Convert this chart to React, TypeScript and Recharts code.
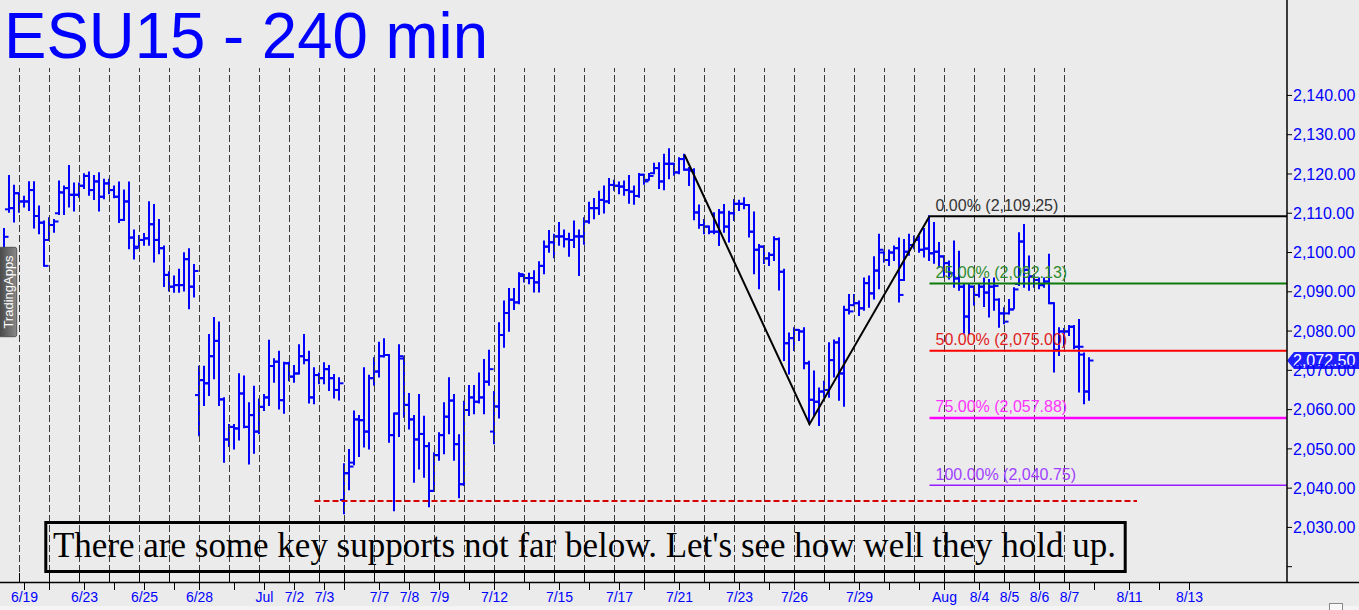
import React from "react";
import { Bar, ComposedChart, Line, ReferenceLine, XAxis, YAxis } from "recharts";

const BLUE = "#0000ff";
const BG = "#ebebeb";

// 240-minute bars, ESU15, 6/19 .. 8/7
const opens = [
  2097, 2111, 2111.3, 2115.1, 2113.0, 2113.0, 2115.9, 2109.3, 2107.6, 2103.2,
  2107.0, 2110.0, 2115.3, 2116.4, 2114.7, 2114.7, 2117.0, 2119.5, 2115.9, 2118.1,
  2114.2, 2117.6, 2115.9, 2114.2, 2108.3, 2113.0, 2103.8, 2101.5, 2103.2, 2103.6,
  2107.2, 2103.2, 2101.1, 2094.3, 2091.3, 2091.7, 2091.7, 2098.3, 2091.3, 2063.7,
  2067.5, 2066.7, 2073.6, 2077.5, 2062.6, 2052.4, 2055.6, 2055.2, 2064.1, 2055.6,
  2058.6, 2054.4, 2060.7, 2063.1, 2071.1, 2072.2, 2062.4, 2071.8, 2068.4, 2069.2,
  2073.6, 2072.6, 2063.1, 2068.8, 2068.0, 2070.3, 2068.0, 2065.0, 2037.0, 2043.8,
  2046.5, 2057.5, 2057.3, 2054.4, 2068.0, 2069.7, 2073.6, 2073.9, 2053.5, 2059.0,
  2073.0, 2061.2, 2057.5, 2052.4, 2053.8, 2050.7, 2039.3, 2048.4, 2053.5, 2058.2,
  2062.3, 2051.2, 2041.0, 2059.9, 2063.1, 2062.0, 2063.1, 2067.1, 2054.4, 2060.8,
  2079.0, 2084.6, 2088.0, 2087.3, 2094.0, 2093.5, 2093.5, 2092.4, 2096.6, 2101.5,
  2102.6, 2104.1, 2104.1, 2103.4, 2103.2, 2104.1, 2104.1, 2107.9, 2111.3, 2111.3,
  2113.4, 2113.0, 2117.2, 2117.0, 2116.8, 2115.9, 2115.5, 2114.4, 2119.8, 2118.5,
  2120.2, 2121.5, 2118.1, 2122.6, 2122.6, 2120.4, 2123.8, 2121.1, 2120.9, 2110.2,
  2107.0, 2106.6, 2105.3, 2105.3, 2110.2, 2106.6, 2110.0, 2112.4, 2112.4, 2112.1,
  2105.3, 2100.7, 2101.5, 2098.5, 2099.4, 2103.4, 2095.1, 2076.9, 2078.2, 2080.3,
  2079.9, 2071.8, 2062.5, 2062.0, 2064.6, 2065.0, 2072.6, 2077.1, 2069.2, 2085.4,
  2086.6, 2087.1, 2085.8, 2092.2, 2089.6, 2095.4, 2100.0, 2098.1, 2100.0, 2101.1,
  2093.0, 2100.2, 2101.9, 2103.2, 2100.7, 2101.0, 2099.8, 2100.2, 2099.0, 2097.3,
  2094.7, 2093.4, 2091.3, 2083.7, 2091.3, 2089.2, 2091.3, 2089.8, 2091.3, 2088.0,
  2084.5, 2084.5, 2085.5, 2092.0, 2102.8, 2095.6, 2093.9, 2093.0, 2091.7, 2092.6,
  2087.1, 2075.2, 2079.9, 2079.9, 2081.1, 2076.0, 2074.0, 2064.6,
];

const highs = [
  2106, 2119.5, 2117, 2115.1, 2114.2, 2117.9, 2117.9, 2111.7, 2107.9, 2108.7,
  2108.3, 2118.1, 2116.8, 2122.0, 2117.6, 2117.6, 2119.9, 2120.4, 2119.5, 2120.2,
  2118.5, 2118.5, 2116.8, 2117.8, 2115.8, 2117.8, 2105.6, 2104.2, 2104.7, 2112.8,
  2112.1, 2108.3, 2101.5, 2095.0, 2093.9, 2095.6, 2099.8, 2100.8, 2096.8, 2070.9,
  2070.9, 2079.0, 2083.3, 2082.2, 2062.9, 2056.1, 2056.1, 2069.0, 2068.4, 2061.6,
  2065.8, 2062.6, 2063.7, 2077.5, 2072.8, 2074.7, 2071.9, 2071.9, 2071.1, 2076.4,
  2079.0, 2074.7, 2070.5, 2069.2, 2071.8, 2071.1, 2068.8, 2068.0, 2046.1, 2049.7,
  2059.5, 2058.4, 2070.5, 2068.6, 2073.1, 2077.0, 2077.9, 2073.9, 2059.0, 2076.4,
  2073.3, 2064.0, 2058.4, 2063.7, 2058.2, 2051.4, 2048.9, 2054.0, 2061.6, 2068.0,
  2063.7, 2053.5, 2062.0, 2066.0, 2066.0, 2069.2, 2072.6, 2075.0, 2064.5, 2082.0,
  2087.5, 2090.7, 2090.7, 2094.7, 2094.3, 2094.6, 2095.2, 2097.5, 2102.8, 2105.5,
  2104.5, 2107.5, 2105.6, 2104.8, 2107.9, 2105.6, 2108.7, 2112.7, 2113.6, 2115.5,
  2116.8, 2118.7, 2118.3, 2117.8, 2118.1, 2119.5, 2116.8, 2120.0, 2119.8, 2120.0,
  2122.6, 2122.7, 2124.9, 2126.3, 2122.6, 2124.0, 2124.9, 2121.5, 2121.2, 2112.0,
  2108.3, 2106.6, 2110.0, 2110.8, 2112.1, 2110.4, 2113.4, 2113.2, 2113.8, 2112.1,
  2110.2, 2101.9, 2101.5, 2099.8, 2103.9, 2103.6, 2095.6, 2079.4, 2080.7, 2080.3,
  2080.7, 2072.2, 2069.7, 2065.4, 2067.1, 2076.9, 2077.6, 2078.2, 2086.2, 2089.2,
  2089.2, 2087.5, 2093.4, 2093.9, 2098.8, 2104.5, 2100.2, 2100.5, 2101.5, 2103.6,
  2103.2, 2104.5, 2104.1, 2104.1, 2106.0, 2109.25, 2107.5, 2102.4, 2099.0, 2097.7,
  2102.8, 2100.2, 2091.7, 2091.7, 2091.3, 2091.7, 2093.4, 2093.0, 2093.4, 2088.1,
  2085.8, 2087.9, 2090.9, 2104.9, 2107.0, 2099.0, 2094.3, 2093.4, 2093.4, 2099.4,
  2087.1, 2080.7, 2080.5, 2081.3, 2081.3, 2082.8, 2074.3, 2073.1,
];

const lows = [
  2092, 2110.4, 2107.9, 2110.4, 2111.7, 2110.8, 2106.4, 2104.9, 2096.6, 2103.2,
  2105.3, 2109.8, 2109.8, 2111.7, 2110.7, 2114.2, 2116.4, 2114.7, 2113.6, 2110.7,
  2113.8, 2115.1, 2114.1, 2107.8, 2108.3, 2101.1, 2098.5, 2101.5, 2102.0, 2102.0,
  2097.7, 2099.8, 2091.5, 2090.3, 2090.0, 2090.0, 2090.3, 2085.8, 2088.8, 2053.5,
  2061.2, 2063.7, 2068.0, 2061.2, 2046.7, 2050.7, 2050.1, 2052.4, 2055.5, 2046.3,
  2049.0, 2054.0, 2059.9, 2061.2, 2067.1, 2060.3, 2059.2, 2067.5, 2067.1, 2069.2,
  2071.8, 2061.8, 2061.6, 2066.7, 2066.7, 2065.0, 2063.1, 2062.6, 2033.6, 2039.7,
  2046.1, 2048.2, 2050.6, 2050.1, 2066.3, 2068.4, 2073.5, 2051.8, 2034.4, 2053.3,
  2058.2, 2055.2, 2041.6, 2045.0, 2042.9, 2035.4, 2039.5, 2047.2, 2048.9, 2054.0,
  2047.2, 2037.7, 2040.8, 2058.6, 2059.1, 2061.8, 2059.1, 2066.3, 2051.4, 2058.0,
  2076.0, 2080.1, 2085.6, 2087.1, 2092.6, 2092.2, 2090.1, 2090.1, 2094.7, 2100.2,
  2098.8, 2102.0, 2101.5, 2099.2, 2101.4, 2094.3, 2102.2, 2107.6, 2108.7, 2109.8,
  2110.2, 2112.6, 2116.0, 2115.1, 2114.7, 2112.7, 2112.4, 2114.2, 2117.5, 2118.5,
  2120.2, 2116.4, 2116.1, 2118.9, 2119.8, 2120.2, 2121.1, 2117.2, 2108.5, 2106.3,
  2104.9, 2104.9, 2104.9, 2101.9, 2105.3, 2102.8, 2108.3, 2110.8, 2111.3, 2104.1,
  2094.7, 2090.9, 2097.3, 2096.8, 2098.1, 2090.6, 2072.6, 2069.2, 2075.2, 2077.7,
  2070.5, 2056.5, 2058.6, 2056.1, 2063.3, 2063.3, 2068.4, 2062.5, 2061.0, 2084.5,
  2086.6, 2084.1, 2085.4, 2086.2, 2088.3, 2090.9, 2097.7, 2096.8, 2098.1, 2087.5,
  2093.0, 2099.4, 2101.1, 2100.2, 2099.0, 2098.1, 2097.4, 2096.4, 2093.9, 2093.4,
  2091.3, 2090.5, 2079.6, 2079.4, 2086.7, 2088.8, 2086.4, 2083.7, 2085.4, 2081.1,
  2082.0, 2084.5, 2085.8, 2091.7, 2091.3, 2090.5, 2091.3, 2090.9, 2091.3, 2087.1,
  2069.7, 2073.9, 2076.0, 2079.0, 2075.6, 2064.6, 2061.6, 2062.5,
];

const closes = [
  2104.0, 2111.3, 2115.1, 2113.0, 2113.0, 2115.9, 2109.3, 2107.6, 2096.6, 2107.0,
  2107.9, 2115.3, 2116.4, 2114.7, 2114.7, 2117.0, 2119.5, 2115.9, 2118.1, 2114.2,
  2117.6, 2115.9, 2114.2, 2108.3, 2113.0, 2103.8, 2101.1, 2103.2, 2103.6, 2107.2,
  2103.2, 2101.1, 2094.3, 2091.3, 2091.7, 2091.7, 2098.3, 2091.3, 2095.3, 2067.5,
  2066.7, 2073.6, 2077.5, 2062.6, 2052.4, 2055.6, 2055.2, 2064.1, 2055.6, 2058.6,
  2054.4, 2060.7, 2063.1, 2071.1, 2072.2, 2062.4, 2071.8, 2068.4, 2069.2, 2073.6,
  2072.6, 2063.1, 2068.8, 2068.0, 2070.3, 2068.0, 2065.0, 2066.7, 2043.8, 2045.5,
  2057.5, 2057.3, 2054.4, 2068.0, 2069.7, 2073.6, 2073.9, 2053.5, 2059.0, 2073.6,
  2061.2, 2057.5, 2052.4, 2053.8, 2050.7, 2039.3, 2048.4, 2053.5, 2058.2, 2062.3,
  2051.2, 2041.0, 2059.9, 2063.1, 2062.0, 2063.1, 2067.1, 2070.3, 2060.8, 2079.0,
  2084.6, 2088.0, 2087.3, 2094.5, 2093.5, 2093.5, 2092.4, 2096.6, 2101.5, 2102.6,
  2104.1, 2104.1, 2103.4, 2103.2, 2104.1, 2104.1, 2107.9, 2111.3, 2111.3, 2113.4,
  2113.0, 2117.2, 2117.0, 2116.8, 2115.9, 2115.5, 2114.4, 2119.8, 2118.1, 2119.5,
  2121.5, 2118.1, 2122.6, 2122.6, 2120.4, 2123.8, 2121.1, 2120.9, 2110.2, 2107.0,
  2106.6, 2105.3, 2105.3, 2110.2, 2106.6, 2110.0, 2112.4, 2112.4, 2112.1, 2105.3,
  2100.7, 2101.5, 2098.5, 2099.4, 2103.4, 2095.1, 2076.9, 2078.2, 2080.3, 2079.9,
  2071.8, 2062.5, 2062.0, 2064.6, 2065.0, 2072.6, 2077.1, 2069.2, 2085.4, 2085.0,
  2087.1, 2085.8, 2092.2, 2089.6, 2095.4, 2100.7, 2098.1, 2100.0, 2101.1, 2089.2,
  2100.2, 2101.9, 2103.2, 2100.7, 2101.0, 2099.8, 2100.2, 2099.0, 2097.3, 2094.7,
  2093.4, 2091.3, 2083.7, 2091.3, 2089.2, 2091.3, 2089.8, 2091.3, 2091.5, 2084.5,
  2082.4, 2085.5, 2090.6, 2102.8, 2095.6, 2093.9, 2093.0, 2091.7, 2092.6, 2087.1,
  2075.2, 2079.9, 2079.9, 2081.1, 2076.0, 2076.0, 2064.6, 2072.5,
];

// swing drawn on the chart: 7/21 high -> 7/27 low -> 7/31 high
const swingBars = [136, 161, 185];
const swingPrices = [2124.9, 2056.3, 2109.25];

// retracement levels, anchored at the 7/31 high
const fibLabels = ["0.00%", "25.00%", "50.00%", "75.00%", "100.00%"];
const fibLevels = [2109.25, 2092.13, 2075.0, 2057.88, 2040.75];
const fibColors = ["#000000", "#0a7a0a", "#ff0000", "#ff00ff", "#9a1aff"];
const fibTextColors = ["#333333", "#2e8b2e", "#e02020", "#ff33ff", "#a040ff"];
const fibWidths = [2, 2, 2, 2.5, 1.5];
const fibStartBar = 185;

const supportLevel = 2036.75;
const supportFrom = 62;
const supportTo = 226.5;

const lastPrice = 2072.5;

// first bar of every session (dashed separators)
const sessionBreaks = [
  3, 9, 15, 21, 27, 33, 39, 45, 51, 57, 63, 68, 74, 80, 86, 92, 98, 104, 110,
  116, 122, 128, 134, 140, 146, 152, 158, 164, 170, 176, 182, 188, 194, 200,
  206, 212,
];

const dateTickBars = [
  4, 16, 28, 39, 52, 58, 64, 75, 81, 87, 98, 111, 123, 135, 147, 158, 171,
  188, 195, 201, 207, 213, 225, 237,
];
const dateTickLabels = [
  "6/19", "6/23", "6/25", "6/28", "Jul", "7/2", "7/3", "7/7", "7/8", "7/9",
  "7/12", "7/15", "7/17", "7/21", "7/23", "7/26", "7/29", "Aug", "8/4", "8/5",
  "8/6", "8/7", "8/11", "8/13",
];
const minorTickBars = [9, 22, 34, 46, 68, 93, 105, 117, 128, 141, 153, 165, 177, 183, 218, 231];

const priceTicks = [2020, 2030, 2040, 2050, 2060, 2070, 2080, 2090, 2100, 2110, 2120, 2130, 2140];

const Y_MIN = 2016.1;
const Y_MAX = 2164.3;
const X_MIN = -0.5;
const X_MAX = 256.5;

const data = opens.map((o, i) => {
  const s = swingBars.indexOf(i);
  return {
    i,
    o,
    h: highs[i],
    l: lows[i],
    c: closes[i],
    range: [lows[i], highs[i]],
    swing: s >= 0 ? swingPrices[s] : null,
  };
});

const allXTicks = [...dateTickBars, ...minorTickBars].sort((a, b) => a - b);

function OhlcBar(props: any) {
  const { x, y, width, height, payload } = props;
  if (!payload || x == null || y == null) return <g />;
  const top = Math.min(y, y + height);
  const h = Math.abs(height);
  const cx = x + width / 2;
  const span = payload.h - payload.l;
  const py = (p: number) => (span > 0 ? top + ((payload.h - p) / span) * h : top);
  return (
    <g>
      <line x1={cx} x2={cx} y1={top - 1} y2={top + h + 1} stroke={BLUE} strokeWidth={2} />
      <line x1={cx - 4} x2={cx} y1={py(payload.o)} y2={py(payload.o)} stroke={BLUE} strokeWidth={2} />
      <line x1={cx} x2={cx + 4.5} y1={py(payload.c)} y2={py(payload.c)} stroke={BLUE} strokeWidth={2} />
    </g>
  );
}

function DateTick(props: any) {
  const { x, y, payload } = props;
  const k = dateTickBars.indexOf(payload.value);
  return (
    <g>
      <line x1={x} x2={x} y1={y} y2={y + 8} stroke="#000" strokeWidth={1} />
      {k >= 0 && (
        <text
          x={x}
          y={y + 19.5}
          textAnchor="middle"
          fill={BLUE}
          fontSize={14}
          fontFamily="Liberation Sans, Arial, sans-serif"
        >
          {dateTickLabels[k]}
        </text>
      )}
    </g>
  );
}

function fmtPrice(v: number) {
  return v.toLocaleString("en-US", { minimumFractionDigits: 2, maximumFractionDigits: 2 });
}

function makeFibLabel(k: number) {
  return function FibLabel(p: any) {
    const vb = p.viewBox || {};
    return (
      <text
        x={vb.x + 6}
        y={vb.y - 5.5}
        fill={fibTextColors[k]}
        fontSize={16}
        fontFamily="Liberation Sans, Arial, sans-serif"
      >
        {`${fibLabels[k]} (${fmtPrice(fibLevels[k])})`}
      </text>
    );
  };
}

function PriceTag(p: any) {
  const vb = p.viewBox || {};
  const left = vb.x + vb.width;
  const cy = vb.y;
  const pts = `${left},${cy} ${left + 7},${cy - 8.5} 1359,${cy - 8.5} 1359,${cy + 8.5} ${left + 7},${cy + 8.5}`;
  return (
    <g>
      <polygon points={pts} fill="#1f1fff" />
      <text
        x={left + 6}
        y={cy + 5.5}
        fill="#ffffff"
        fontSize={16}
        fontFamily="Liberation Sans, Arial, sans-serif"
      >
        {fmtPrice(lastPrice)}
      </text>
    </g>
  );
}

export default function App() {
  return (
    <div style={{ position: "absolute", left: 0, top: 0, width: 1359, height: 610, background: BG, overflow: "hidden" }}>
      <ComposedChart
        width={1359}
        height={610}
        data={data}
        margin={{ top: 0, right: 0, bottom: 0, left: 2 }}
      >
        <XAxis
          dataKey="i"
          type="number"
          domain={[X_MIN, X_MAX]}
          allowDataOverflow
          ticks={allXTicks}
          interval={0}
          tick={<DateTick />}
          tickLine={false}
          tickSize={0}
          tickMargin={0}
          axisLine={false}
          height={28}
        />
        <YAxis
          orientation="right"
          type="number"
          domain={[Y_MIN, Y_MAX]}
          allowDataOverflow
          ticks={priceTicks}
          interval={0}
          width={72}
          tickSize={5}
          tickMargin={1}
          tickFormatter={(v: number) => (v === 2020 ? "" : fmtPrice(v))}
          tick={{ fill: BLUE, fontSize: 16, fontFamily: "Liberation Sans, Arial, sans-serif", textAnchor: "start" }}
          axisLine={{ stroke: "#000", strokeWidth: 1.5 }}
          tickLine={{ stroke: "#000" }}
        />
        {sessionBreaks.map((b) => (
          <ReferenceLine
            key={`s${b}`}
            segment={[{ x: b, y: Y_MIN }, { x: b, y: 2147 }]}
            stroke="#3a3a3a"
            strokeWidth={1}
            strokeDasharray="7 3"
          />
        ))}
        {sessionBreaks.map((b) => (
          <ReferenceLine
            key={`t${b}`}
            segment={[{ x: b, y: Y_MIN }, { x: b, y: 2018.4 }]}
            stroke="#000"
            strokeWidth={1}
          />
        ))}
        {fibLevels.map((lv, k) => (
          <ReferenceLine
            key={`f${k}`}
            segment={[{ x: fibStartBar, y: lv }, { x: X_MAX, y: lv }]}
            stroke={fibColors[k]}
            strokeWidth={fibWidths[k]}
            label={makeFibLabel(k)}
          />
        ))}
        <ReferenceLine
          segment={[{ x: supportFrom, y: supportLevel }, { x: supportTo, y: supportLevel }]}
          stroke="#d40000"
          strokeWidth={2}
          strokeDasharray="6 3"
        />
        <Bar dataKey="range" barSize={2} shape={<OhlcBar />} isAnimationActive={false} />
        <Line
          dataKey="swing"
          type="linear"
          stroke="#000"
          strokeWidth={2}
          dot={false}
          activeDot={false}
          connectNulls
          isAnimationActive={false}
        />
        <ReferenceLine y={lastPrice} stroke="none" label={PriceTag} />
      </ComposedChart>
      <svg
        width={1359}
        height={610}
        style={{ position: "absolute", left: 0, top: 0, pointerEvents: "none" }}
      >
        <text
          x={4}
          y={58}
          fill={BLUE}
          fontSize={64}
          fontFamily="Liberation Sans, Arial, sans-serif"
          textLength={484}
          lengthAdjust="spacingAndGlyphs"
        >
          ESU15 - 240 min
        </text>
        <line x1={0} x2={1359} y1={582.5} y2={582.5} stroke="#000" strokeWidth={1.5} />
        <rect x={0} y={606} width={1359} height={4} fill="#f4f4f4" />
        <rect x={1329.5} y={603.5} width={13} height={8} fill="#f8f8f8" stroke="#888" />
        <rect x={45.8} y={522.5} width={1079.4} height={49} fill="none" stroke="#000" strokeWidth={3} />
        <text
          x={53}
          y={557.3}
          fill="#000"
          fontSize={35}
          fontFamily="Liberation Serif, Times New Roman, serif"
          textLength={1063}
          lengthAdjust="spacingAndGlyphs"
        >
          There are some key supports not far below. Let's see how well they hold up.
        </text>
        <defs>
          <linearGradient id="badge" x1="0" y1="0" x2="1" y2="0">
            <stop offset="0%" stopColor="#3e3e3e" />
            <stop offset="100%" stopColor="#8a8a8a" />
          </linearGradient>
        </defs>
        <rect x={-3} y={247.3} width={19.7} height={89.4} rx={2} fill="url(#badge)" stroke="#555" />
        <text
          x={0}
          y={0}
          transform="translate(12.5 292) rotate(-90)"
          textAnchor="middle"
          fill="#ffffff"
          fontSize={13}
          fontFamily="Liberation Sans, Arial, sans-serif"
        >
          TradingApps
        </text>
      </svg>
    </div>
  );
}
